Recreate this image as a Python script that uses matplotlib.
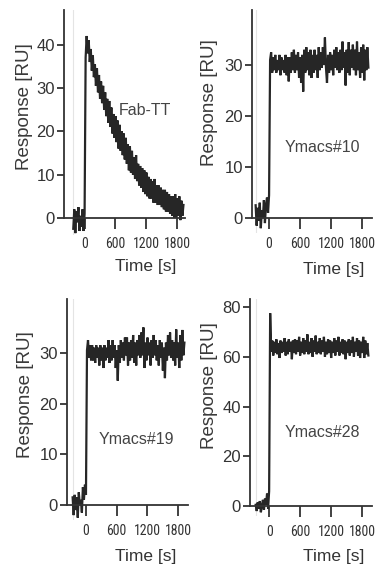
import numpy as np
import matplotlib
matplotlib.use("Agg")
import matplotlib.pyplot as plt
from matplotlib import font_manager

# ---------------- data ----------------
step_s = 20  # sampling step of the traces, seconds

fabtt_start = -220
fabtt_ru = [-2.5, 2.0, -3.5, 1.5, -1.0, 2.5, -3.0, 0.5, -2.0, 2.0, -3.0,
            1.0, 37.0, 42.0, 38.0, 41.0, 36.0, 39.0, 34.0, 37.5, 32.5, 35.5,
            30.5, 34.5, 29.0, 33.0, 27.5, 31.5, 26.5, 30.5, 25.0, 29.0,
            23.5, 27.5, 22.0, 27.0, 21.0, 25.5, 19.5, 24.0, 18.5, 23.5,
            17.5, 22.5, 16.0, 21.5, 15.5, 20.0, 14.5, 19.5, 13.5, 18.5,
            12.5, 17.0, 11.0, 16.5, 10.5, 15.5, 10.0, 14.0, 9.0, 14.5,
            8.5, 12.5, 7.5, 12.0, 7.0, 11.5, 6.0, 11.0, 5.5, 10.5,
            5.0, 9.5, 4.5, 9.0, 4.5, 8.5, 3.5, 9.0, 3.5, 7.5,
            3.0, 7.5, 3.0, 7.0, 2.5, 6.5, 2.0, 6.5, 1.5, 6.0,
            1.5, 5.5, 1.0, 5.0, 0.5, 5.0, 0.0, 5.5, 0.0, 4.5,
            0.5, 5.0, -0.5, 4.0, 0.5, 3.0]

y10_start = -260
y10_ru = [2.5, -1.5, 2.0, -0.5, 3.0, -2.0, 1.5, 0.0, 3.5, -1.0, 2.5, 4.0, 1.0,
          4.5, 31.0,
          32.5, 28.5, 31.5, 29.0, 32.0, 28.5, 31.0, 29.0, 32.0, 28.0,
          31.5, 29.0, 31.0, 28.5, 32.0, 28.0, 31.5, 26.8, 31.5, 28.5,
          32.5, 29.0, 33.0, 28.5, 32.0, 29.0, 32.5, 27.5, 31.5, 26.5,
          32.0, 24.8, 33.0, 28.5, 33.5, 29.0, 32.5, 28.0, 33.0, 27.5,
          32.0, 28.5, 33.0, 29.0, 32.0, 27.5, 33.5, 29.0, 32.5, 29.5,
          33.5, 30.0, 35.4, 29.5, 26.5, 32.0, 28.5, 32.5, 29.0, 32.0,
          28.0, 33.0, 29.5, 33.5, 29.0, 32.5, 28.5, 33.0, 29.0, 34.6,
          29.5, 32.5, 26.0, 33.0, 28.5, 34.5, 28.0, 33.0, 29.5, 34.0,
          29.0, 33.0, 28.0, 34.6, 29.0, 32.5, 27.5, 33.5, 28.5, 34.0,
          27.0, 33.0, 29.0, 33.5, 29.5]

y19_start = -260
y19_ru = [1.5, -2.0, 2.0, -1.0, 1.5, -2.5, 2.5, 0.0, 1.0, -1.5, 3.5, 1.0, 4.0,
          2.0, 30.5,
          32.5, 29.0, 31.5, 28.5, 31.5, 28.5, 31.0, 28.0, 31.5, 29.0,
          31.0, 27.5, 31.5, 28.5, 31.0, 27.0, 31.5, 28.5, 31.0, 29.0,
          32.5, 28.0, 31.5, 28.5, 32.5, 29.0, 31.5, 27.0, 30.5, 24.5,
          31.5, 28.0, 32.5, 29.0, 32.0, 28.5, 33.0, 29.5, 33.0, 27.5,
          32.0, 28.5, 32.5, 29.0, 33.5, 28.0, 32.0, 27.5, 32.5, 29.5,
          33.5, 29.0, 34.0, 29.5, 35.0, 27.0, 32.0, 28.5, 33.0, 29.5,
          32.0, 27.5, 32.5, 29.0, 33.5, 29.5, 32.5, 28.5, 31.5, 27.5,
          32.5, 29.0, 32.0, 26.5, 31.0, 25.0, 32.0, 28.5, 33.5, 29.5,
          34.0, 29.0, 32.5, 28.5, 32.0, 27.5, 34.6, 29.0, 32.0, 27.0,
          33.5, 28.5, 34.5, 29.5, 32.0]

y28_start = -260
y28_ru = [0.5, -2.0, 1.5, -1.0, 2.0, -2.5, 0.0, 2.5, -1.5, 3.0, 0.5, 5.0, -1.0,
          6.0, 77.5, 62.0,
          66.5, 60.5, 66.0, 61.5, 67.0, 61.0, 65.5, 59.5, 66.5, 61.5,
          66.0, 62.0, 67.5, 60.5, 66.0, 61.0, 67.0, 62.0, 66.0, 59.0,
          66.5, 61.5, 67.0, 61.0, 66.5, 62.0, 68.0, 60.5, 66.0, 61.5,
          67.5, 61.0, 66.5, 62.0, 69.0, 61.0, 66.0, 61.5, 67.5, 60.0,
          66.5, 62.0, 68.5, 61.0, 66.0, 61.5, 67.5, 61.0, 66.5, 62.0,
          68.0, 60.0, 66.0, 61.0, 67.0, 61.5, 66.5, 59.5, 66.0, 61.5,
          67.5, 60.5, 66.5, 62.0, 68.0, 60.5, 66.0, 61.5, 67.0, 61.0,
          66.5, 59.0, 66.0, 61.5, 67.0, 60.5, 66.5, 61.5, 68.0, 60.0,
          66.0, 62.0, 67.5, 60.5, 66.5, 59.5, 66.0, 61.5, 68.0, 59.5,
          66.5, 61.0, 65.5, 60.5]

panel_names = ["Fab-TT", "Ymacs#10", "Ymacs#19", "Ymacs#28"]
x_ticks = [0, 600, 1200, 1800]
y_ticks = [[0, 10, 20, 30, 40], [0, 10, 20, 30], [0, 10, 20, 30], [0, 20, 40, 60, 80]]
x_label = "Time [s]"
y_label = "Response [RU]"

# ---------------- fonts ----------------
sans = ["Liberation Sans", "DejaVu Sans"]
_names = {f.name for f in font_manager.fontManager.ttflist}
_narrow = [n for n in ["Liberation Sans Narrow", "Roboto Condensed",
                       "Open Sans Condensed", "Noto Sans Condensed",
                       "DejaVu Sans Condensed"] if n in _names]
_cond_dejavu = any(f.name == "DejaVu Sans" and "condensed" in str(f.stretch)
                   for f in font_manager.fontManager.ttflist)
if _narrow:
    xtick_font = dict(family=[_narrow[0]] + sans, size=10, stretch="normal")
elif _cond_dejavu:
    xtick_font = dict(family=["DejaVu Sans"], size=9, stretch="condensed")
else:
    xtick_font = dict(family=sans, size=8.3, stretch="normal")

# ---------------- layout / style ----------------
W, H = 383, 568
fig = plt.figure(figsize=(W / 100, H / 100), dpi=100)
fig.patch.set_facecolor("white")

# axes boxes in pixels: left, top, right, bottom
boxes = [(64, 10, 185, 235.3), (252, 10, 372, 233.3),
         (67, 299, 188, 520.2), (250, 299, 372, 516)]
xlims = [(-400, 1950), (-330, 1990), (-370, 1990), (-370, 1990)]
ylims = [(-4, 48), (-3, 40.8), (-3, 40.6), (-4, 83.2)]
name_pos = [(0.665, 0.556), (0.583, 0.386), (0.576, 0.367), (0.59, 0.386)]
ylab_pos = [(-0.33, 0.57), (-0.354, 0.585), (-0.347, 0.57), (-0.33, 0.60)]
xlab_pos = [(0.678, -0.103), (0.68, -0.128), (0.653, -0.130), (0.684, -0.152)]

series = [(fabtt_start, fabtt_ru), (y10_start, y10_ru),
          (y19_start, y19_ru), (y28_start, y28_ru)]

ink = "#333333"

for i in range(4):
    l, t, r, b = boxes[i]
    ax = fig.add_axes([l / W, 1 - b / H, (r - l) / W, (b - t) / H])
    start, vals = series[i]
    tt = start + step_s * np.arange(len(vals))
    ax.plot(tt, vals, color="#262626", lw=1.6, solid_joinstyle="miter")
    ax.axvline(tt[0], color="#e4e4e4", lw=0.8, zorder=0)

    ax.set_xlim(*xlims[i])
    ax.set_ylim(*ylims[i])
    for s in ["top", "right"]:
        ax.spines[s].set_visible(False)
    ax.spines["bottom"].set_position(("data", 0))
    ax.spines["left"].set_bounds(0, ylims[i][1])
    for s in ["left", "bottom"]:
        ax.spines[s].set_color(ink)
        ax.spines[s].set_linewidth(1.3)

    ax.set_xticks(x_ticks)
    ax.set_yticks(y_ticks[i])
    ax.tick_params(axis="x", direction="out", length=8, width=1.3, color=ink,
                   pad=6, labelcolor=ink)
    ax.tick_params(axis="y", direction="out", length=5, width=1.3, color=ink,
                   pad=1.5, labelcolor=ink, labelsize=12)
    for lab in ax.get_xticklabels():
        lab.set_family(xtick_font["family"])
        lab.set_fontsize(xtick_font["size"])
        lab.set_fontstretch(xtick_font["stretch"])
    for lab in ax.get_yticklabels():
        lab.set_family(sans)

    ax.set_xlabel(x_label, family=sans, fontsize=12.5, color=ink, va="top")
    ax.xaxis.set_label_coords(*xlab_pos[i])
    ax.set_ylabel(y_label, family=sans, fontsize=13.5, color="#3a3a3a", va="center")
    ax.yaxis.set_label_coords(*ylab_pos[i])

    ax.text(name_pos[i][0], name_pos[i][1], panel_names[i], transform=ax.transAxes,
            ha="center", va="center", family=sans, fontsize=11.5, color="#444444")
    ax.set_facecolor("none")

fig.savefig("out.png", dpi=100, facecolor="white")
